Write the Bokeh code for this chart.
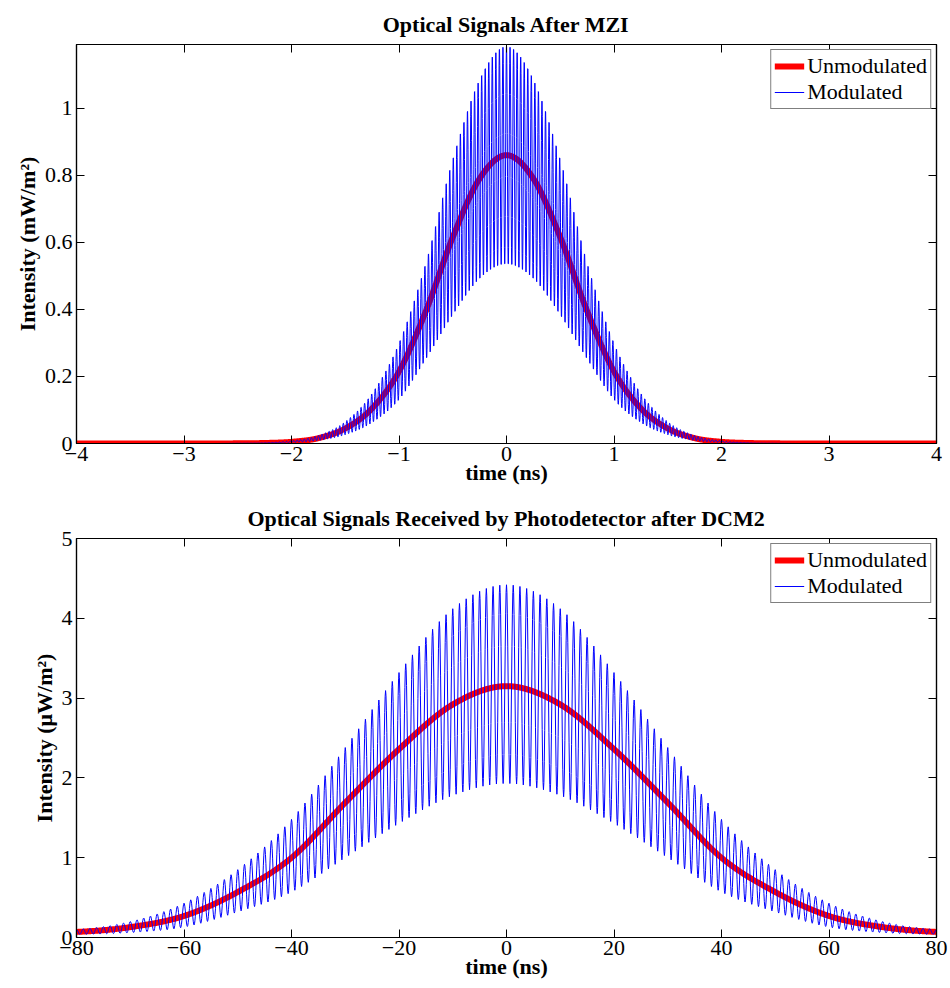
import numpy as np
from bokeh.plotting import figure
from bokeh.layouts import column
from bokeh.models import FixedTicker, LinearAxis, CustomJSTickFormatter, Range1d
from bokeh.embed import file_html
from bokeh.resources import INLINE

# ---------------- data ----------------
# Top panel: optical signals after MZI (time in ns, intensity in mW/m^2)
top_title = "Optical Signals After MZI"
top_t = [-3.0, -2.75, -2.5, -2.25, -2.0, -1.75, -1.5, -1.25, -1.0, -0.75, -0.5, -0.25,
         0.0, 0.25, 0.5, 0.75, 1.0, 1.25, 1.5, 1.75, 2.0, 2.25, 2.5, 2.75, 3.0]
top_unmodulated = [0.0, 0.0, 0.0005, 0.0015, 0.005, 0.016, 0.045, 0.105, 0.215, 0.395, 0.615, 0.79,
                   0.86, 0.79, 0.615, 0.395, 0.215, 0.105, 0.045, 0.016, 0.005, 0.0015, 0.0005, 0.0, 0.0]
top_mod_upper = [0.0, 0.0, 0.0007, 0.002, 0.008, 0.024, 0.065, 0.15, 0.30, 0.54, 0.85, 1.09,
                 1.19, 1.09, 0.85, 0.54, 0.30, 0.15, 0.065, 0.024, 0.008, 0.002, 0.0007, 0.0, 0.0]
top_mod_lower = [0.0, 0.0, 0.0003, 0.001, 0.003, 0.009, 0.026, 0.062, 0.13, 0.25, 0.38, 0.487,
                 0.53, 0.487, 0.38, 0.25, 0.13, 0.062, 0.026, 0.009, 0.003, 0.001, 0.0003, 0.0, 0.0]
top_carrier_period_ns = 0.033
top_xticks = [-4, -3, -2, -1, 0, 1, 2, 3, 4]
top_xtick_labels = ["\u22124", "\u22123", "\u22122", "\u22121", "0", "1", "2", "3", "4"]
top_yticks = [0, 0.2, 0.4, 0.6, 0.8, 1.0]
top_ytick_labels = ["0", "0.2", "0.4", "0.6", "0.8", "1"]
top_ylabel = "Intensity (mW/m\u00b2)"

# Bottom panel: received by photodetector after DCM2 (time in ns, intensity in uW/m^2)
bot_title = "Optical Signals Received by Photodetector after DCM2"
bot_t = [-80, -70, -60, -50, -40, -30, -20, -10, 0, 10, 20, 30, 40, 50, 60, 70, 80]
bot_unmodulated = [0.07, 0.13, 0.27, 0.57, 1.00, 1.69, 2.36, 2.92, 3.15,
                   2.92, 2.36, 1.69, 1.00, 0.57, 0.27, 0.13, 0.07]
bot_mod_upper = [0.10, 0.20, 0.43, 0.85, 1.48, 2.38, 3.32, 4.12, 4.42,
                 4.12, 3.32, 2.38, 1.48, 0.85, 0.43, 0.20, 0.10]
bot_mod_lower = [0.04, 0.06, 0.13, 0.32, 0.57, 1.00, 1.43, 1.78, 1.93,
                 1.78, 1.43, 1.00, 0.57, 0.32, 0.13, 0.06, 0.04]
bot_carrier_period_ns = 1.25
bot_xticks = [-80, -60, -40, -20, 0, 20, 40, 60, 80]
bot_xtick_labels = ["\u221280", "\u221260", "\u221240", "\u221220", "0", "20", "40", "60", "80"]
bot_yticks = [0, 1, 2, 3, 4, 5]
bot_ytick_labels = ["0", "1", "2", "3", "4", "5"]
bot_ylabel = "Intensity (\u03bcW/m\u00b2)"

xlabel = "time (ns)"
legend_labels = ["Unmodulated", "Modulated"]

SERIF = "Liberation Serif"


def smooth(tq, ts, ys):
    """Catmull-Rom curve through the read sample points."""
    ts = np.asarray(ts, float)
    ys = np.asarray(ys, float)
    n = len(ts)
    h = ts[1] - ts[0]
    u = np.clip((np.asarray(tq, float) - ts[0]) / h, 0, n - 1)
    i = np.clip(np.floor(u).astype(int), 0, n - 2)
    s = u - i
    p0 = ys[np.clip(i - 1, 0, n - 1)]
    p1 = ys[i]
    p2 = ys[i + 1]
    p3 = ys[np.clip(i + 2, 0, n - 1)]
    out = 0.5 * (2 * p1 + (-p0 + p2) * s + (2 * p0 - 5 * p1 + 4 * p2 - p3) * s ** 2
                 + (-p0 + 3 * p1 - 3 * p2 + p3) * s ** 3)
    return np.clip(out, 0, None)


def panel(title, ts, unmod, up, lo, period, xr, yr, xticks, xlabels, yticks, ylabels,
          ylabel, height, b_top, b_bottom):
    p = figure(width=950, height=height, x_range=Range1d(*xr), y_range=Range1d(*yr),
               output_backend="svg", toolbar_location=None, title=title,
               min_border_left=76, min_border_right=14,
               min_border_top=b_top, min_border_bottom=b_bottom)
    p.title.text_font = SERIF
    p.title.text_font_style = "bold"
    p.title.text_font_size = "22px"
    p.title.align = "center"
    p.title.text_color = "black"
    p.title.standoff = 16
    p.grid.visible = False
    p.outline_line_color = "black"
    p.outline_line_width = 1.2
    p.background_fill_color = "white"
    p.border_fill_color = "white"

    # dense time axes
    t_fine = np.linspace(xr[0], xr[1], 2000)
    n_mod = int(round((xr[1] - xr[0]) / period * 16)) + 1
    t_mod = np.linspace(xr[0], xr[1], n_mod)
    up_f = smooth(t_mod, ts, up)
    lo_f = smooth(t_mod, ts, lo)
    y_mod = lo_f + (up_f - lo_f) * 0.5 * (1 + np.cos(2 * np.pi * t_mod / period))

    p.line(t_fine, smooth(t_fine, ts, unmod), line_color="#ff0000", line_width=6,
           legend_label=legend_labels[0])
    p.line(t_mod, y_mod, line_color="#0000ff", line_width=1,
           legend_label=legend_labels[1])

    # axes
    def style_axis(ax, ticks, labels, show):
        ax.ticker = FixedTicker(ticks=ticks)
        ax.major_tick_in = 8
        ax.major_tick_out = 0
        ax.minor_tick_line_color = None
        ax.axis_line_color = "black"
        ax.axis_line_width = 1.2
        ax.major_tick_line_color = "black"
        if show:
            ax.major_label_overrides = {t: l for t, l in zip(ticks, labels)}
            ax.major_label_text_font = SERIF
            ax.major_label_text_font_size = "22px"
            ax.major_label_text_color = "black"
            ax.major_label_standoff = 4
        else:
            ax.formatter = CustomJSTickFormatter(code="return ''")
            ax.major_label_standoff = 0

    style_axis(p.xaxis[0], xticks, xlabels, True)
    style_axis(p.yaxis[0], yticks, ylabels, True)
    for ax in (p.xaxis[0], p.yaxis[0]):
        ax.axis_label_text_font = SERIF
        ax.axis_label_text_font_style = "bold"
        ax.axis_label_text_font_size = "22px"
        ax.axis_label_text_color = "black"
    p.xaxis[0].axis_label_standoff = -4
    p.xaxis[0].major_label_standoff = 3
    p.yaxis[0].axis_label_standoff = 2
    p.xaxis[0].axis_label = xlabel
    p.yaxis[0].axis_label = ylabel

    top_ax = LinearAxis()
    style_axis(top_ax, xticks, xlabels, False)
    p.add_layout(top_ax, "above")
    right_ax = LinearAxis()
    style_axis(right_ax, yticks, ylabels, False)
    p.add_layout(right_ax, "right")

    lg = p.legend[0]
    lg.location = "top_right"
    lg.margin = 5
    lg.padding = 3
    lg.spacing = 0
    lg.label_text_font = SERIF
    lg.label_text_font_size = "22px"
    lg.label_text_color = "black"
    lg.label_height = 24
    lg.glyph_height = 24
    lg.glyph_width = 30
    lg.label_standoff = 3
    lg.border_line_color = "black"
    lg.border_line_width = 1.2
    lg.background_fill_alpha = 1.0
    return p


p1 = panel(top_title, top_t, top_unmodulated, top_mod_upper, top_mod_lower,
           top_carrier_period_ns, (-4, 4), (0, 1.19), top_xticks, top_xtick_labels,
           top_yticks, top_ytick_labels, top_ylabel, 490, 44, 47)
p2 = panel(bot_title, bot_t, bot_unmodulated, bot_mod_upper, bot_mod_lower,
           bot_carrier_period_ns, (-80, 80), (0, 5), bot_xticks, bot_xtick_labels,
           bot_yticks, bot_ytick_labels, bot_ylabel, 498, 48, 51)

layout = column(p1, p2, spacing=0)
open("out.html", "w").write(file_html(layout, INLINE))
